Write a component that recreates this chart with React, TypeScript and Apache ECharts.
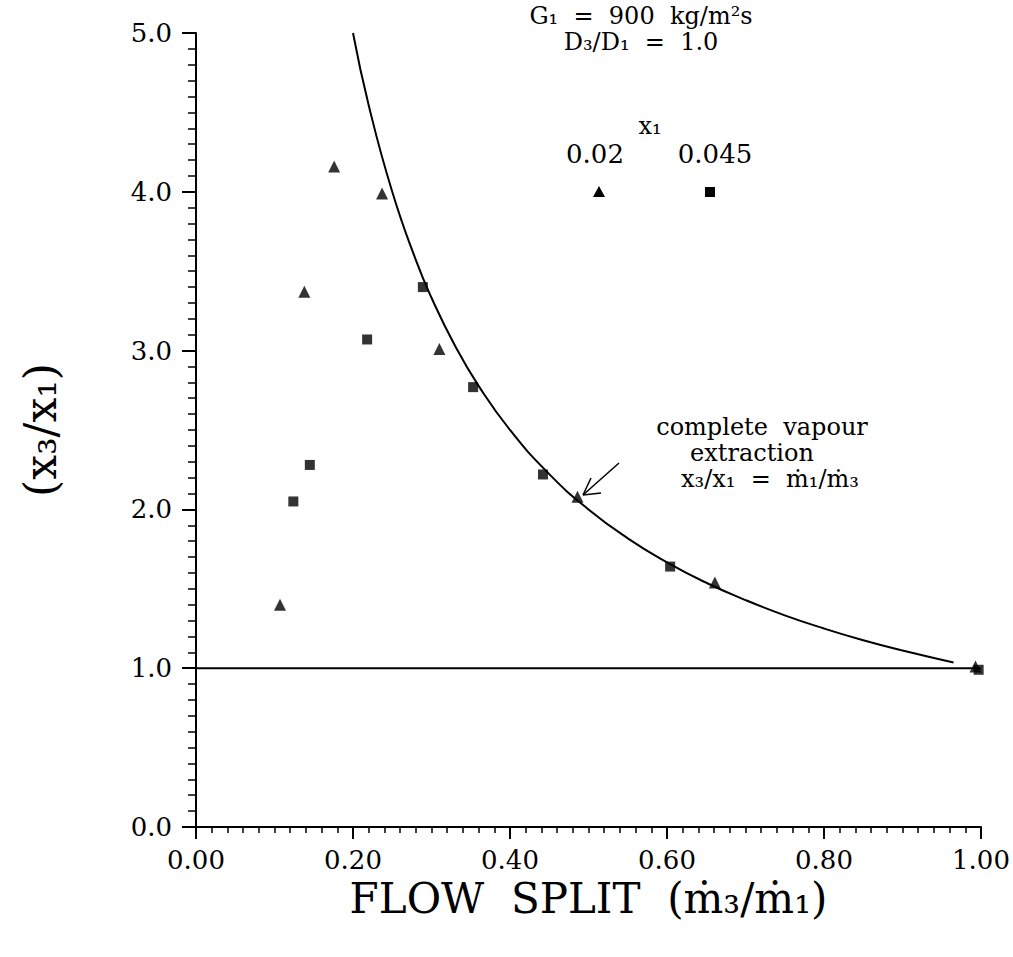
import React, { useEffect, useRef } from "react";
import * as echarts from "echarts";

// x1 = 0.02 (triangles)
const triangleData: [number, number][] = [
  [0.107, 1.4],
  [0.138, 3.37],
  [0.176, 4.16],
  [0.237, 3.99],
  [0.31, 3.01],
  [0.486, 2.08],
  [0.661, 1.54],
  [0.993, 1.01],
];

// x1 = 0.045 (squares)
const squareData: [number, number][] = [
  [0.124, 2.05],
  [0.145, 2.28],
  [0.218, 3.07],
  [0.289, 3.4],
  [0.353, 2.77],
  [0.442, 2.22],
  [0.604, 1.64],
  [0.997, 0.99],
];

// complete vapour extraction: x3/x1 = m1/m3
const curveData: [number, number][] = [
  [0.2, 5.0],
  [0.22, 4.545],
  [0.25, 4.0],
  [0.28, 3.571],
  [0.3, 3.333],
  [0.33, 3.03],
  [0.36, 2.778],
  [0.4, 2.5],
  [0.45, 2.222],
  [0.5, 2.0],
  [0.55, 1.818],
  [0.6, 1.667],
  [0.65, 1.538],
  [0.7, 1.429],
  [0.75, 1.333],
  [0.8, 1.25],
  [0.85, 1.176],
  [0.9, 1.111],
  [0.965, 1.036],
];

const unityLine: [number, number][] = [
  [0, 1],
  [1, 1],
];

const FONT = "DejaVu Serif";

export default function App() {
  const ref = useRef<HTMLDivElement>(null);
  useEffect(() => {
    if (!ref.current) return;
    const chart = echarts.init(ref.current, undefined, { renderer: "svg" });
    chart.setOption({
      animation: false,
      backgroundColor: "#ffffff",
      grid: { left: 196, right: 32, top: 33, bottom: 130, containLabel: false },
      xAxis: {
        type: "value",
        min: 0,
        max: 1,
        interval: 0.2,
        name: "FLOW  SPLIT  (ṁ₃/ṁ₁)",
        nameLocation: "middle",
        nameGap: 50,
        nameTextStyle: { fontFamily: FONT, fontSize: 42, color: "#000" },
        axisLine: { show: true, lineStyle: { color: "#000", width: 2 } },
        axisTick: { show: true, inside: false, length: 12, lineStyle: { color: "#000", width: 2 } },
        minorTick: { show: true, splitNumber: 10, length: 6, lineStyle: { color: "#000", width: 1.5 } },
        splitLine: { show: false },
        axisLabel: {
          margin: 20,
          fontFamily: FONT,
          fontSize: 26,
          color: "#000",
          formatter: (v: number) => v.toFixed(2),
        },
      },
      yAxis: {
        type: "value",
        min: 0,
        max: 5,
        interval: 1,
        name: "(x₃/x₁)",
        nameLocation: "middle",
        nameRotate: 90,
        nameGap: 134,
        nameTextStyle: { fontFamily: FONT, fontSize: 44, color: "#000" },
        axisLine: { show: true, lineStyle: { color: "#000", width: 2 } },
        axisTick: { show: true, inside: false, length: 14, lineStyle: { color: "#000", width: 2 } },
        minorTick: { show: true, splitNumber: 10, length: 8, lineStyle: { color: "#000", width: 1.5 } },
        splitLine: { show: false },
        axisLabel: {
          margin: 24,
          fontFamily: FONT,
          fontSize: 26,
          color: "#000",
          formatter: (v: number) => v.toFixed(1),
        },
      },
      series: [
        {
          type: "line",
          data: unityLine,
          symbol: "none",
          lineStyle: { color: "#000", width: 2 },
          z: 2,
        },
        {
          type: "line",
          data: curveData,
          smooth: true,
          symbol: "none",
          lineStyle: { color: "#000", width: 2 },
          z: 2,
        },
        {
          type: "scatter",
          name: "0.02",
          data: triangleData,
          symbol: "triangle",
          symbolSize: 12,
          itemStyle: { color: "#000" },
          z: 3,
        },
        {
          type: "scatter",
          name: "0.045",
          data: squareData,
          symbol: "rect",
          symbolSize: 10,
          itemStyle: { color: "#000" },
          z: 3,
        },
      ],
      graphic: [
        {
          type: "text",
          x: 641,
          y: 16,
          style: {
            text: "G₁  =  900  kg/m²s",
            fontFamily: FONT,
            fontSize: 24,
            fill: "#000",
            align: "center",
            verticalAlign: "middle",
          },
        },
        {
          type: "text",
          x: 641,
          y: 42,
          style: {
            text: "D₃/D₁  =  1.0",
            fontFamily: FONT,
            fontSize: 24,
            fill: "#000",
            align: "center",
            verticalAlign: "middle",
          },
        },
        {
          type: "text",
          x: 650,
          y: 126,
          style: {
            text: "x₁",
            fontFamily: FONT,
            fontSize: 24,
            fill: "#000",
            align: "center",
            verticalAlign: "middle",
          },
        },
        {
          type: "text",
          x: 595,
          y: 154,
          style: {
            text: "0.02",
            fontFamily: FONT,
            fontSize: 26,
            fill: "#000",
            align: "center",
            verticalAlign: "middle",
          },
        },
        {
          type: "text",
          x: 715,
          y: 154,
          style: {
            text: "0.045",
            fontFamily: FONT,
            fontSize: 26,
            fill: "#000",
            align: "center",
            verticalAlign: "middle",
          },
        },
        {
          type: "polygon",
          shape: { points: [[599, 186], [593, 197], [605, 197]] },
          style: { fill: "#000" },
        },
        {
          type: "rect",
          shape: { x: 705, y: 187, width: 10, height: 10 },
          style: { fill: "#000" },
        },
        {
          type: "text",
          x: 762,
          y: 427,
          style: {
            text: "complete  vapour",
            fontFamily: FONT,
            fontSize: 24,
            fill: "#000",
            align: "center",
            verticalAlign: "middle",
          },
        },
        {
          type: "text",
          x: 752,
          y: 453,
          style: {
            text: "extraction",
            fontFamily: FONT,
            fontSize: 24,
            fill: "#000",
            align: "center",
            verticalAlign: "middle",
          },
        },
        {
          type: "text",
          x: 770,
          y: 479,
          style: {
            text: "x₃/x₁  =  ṁ₁/ṁ₃",
            fontFamily: FONT,
            fontSize: 24,
            fill: "#000",
            align: "center",
            verticalAlign: "middle",
          },
        },
        {
          type: "line",
          shape: { x1: 619, y1: 463, x2: 583, y2: 495 },
          style: { stroke: "#000", lineWidth: 1.5 },
        },
        {
          type: "line",
          shape: { x1: 583, y1: 495, x2: 601, y2: 493 },
          style: { stroke: "#000", lineWidth: 1.5 },
        },
        {
          type: "line",
          shape: { x1: 583, y1: 495, x2: 591, y2: 478 },
          style: { stroke: "#000", lineWidth: 1.5 },
        },
      ],
    });
    return () => chart.dispose();
  }, []);
  return (
    <div
      ref={ref}
      style={{ position: "absolute", left: 0, top: 0, width: 1013, height: 957 }}
    />
  );
}
